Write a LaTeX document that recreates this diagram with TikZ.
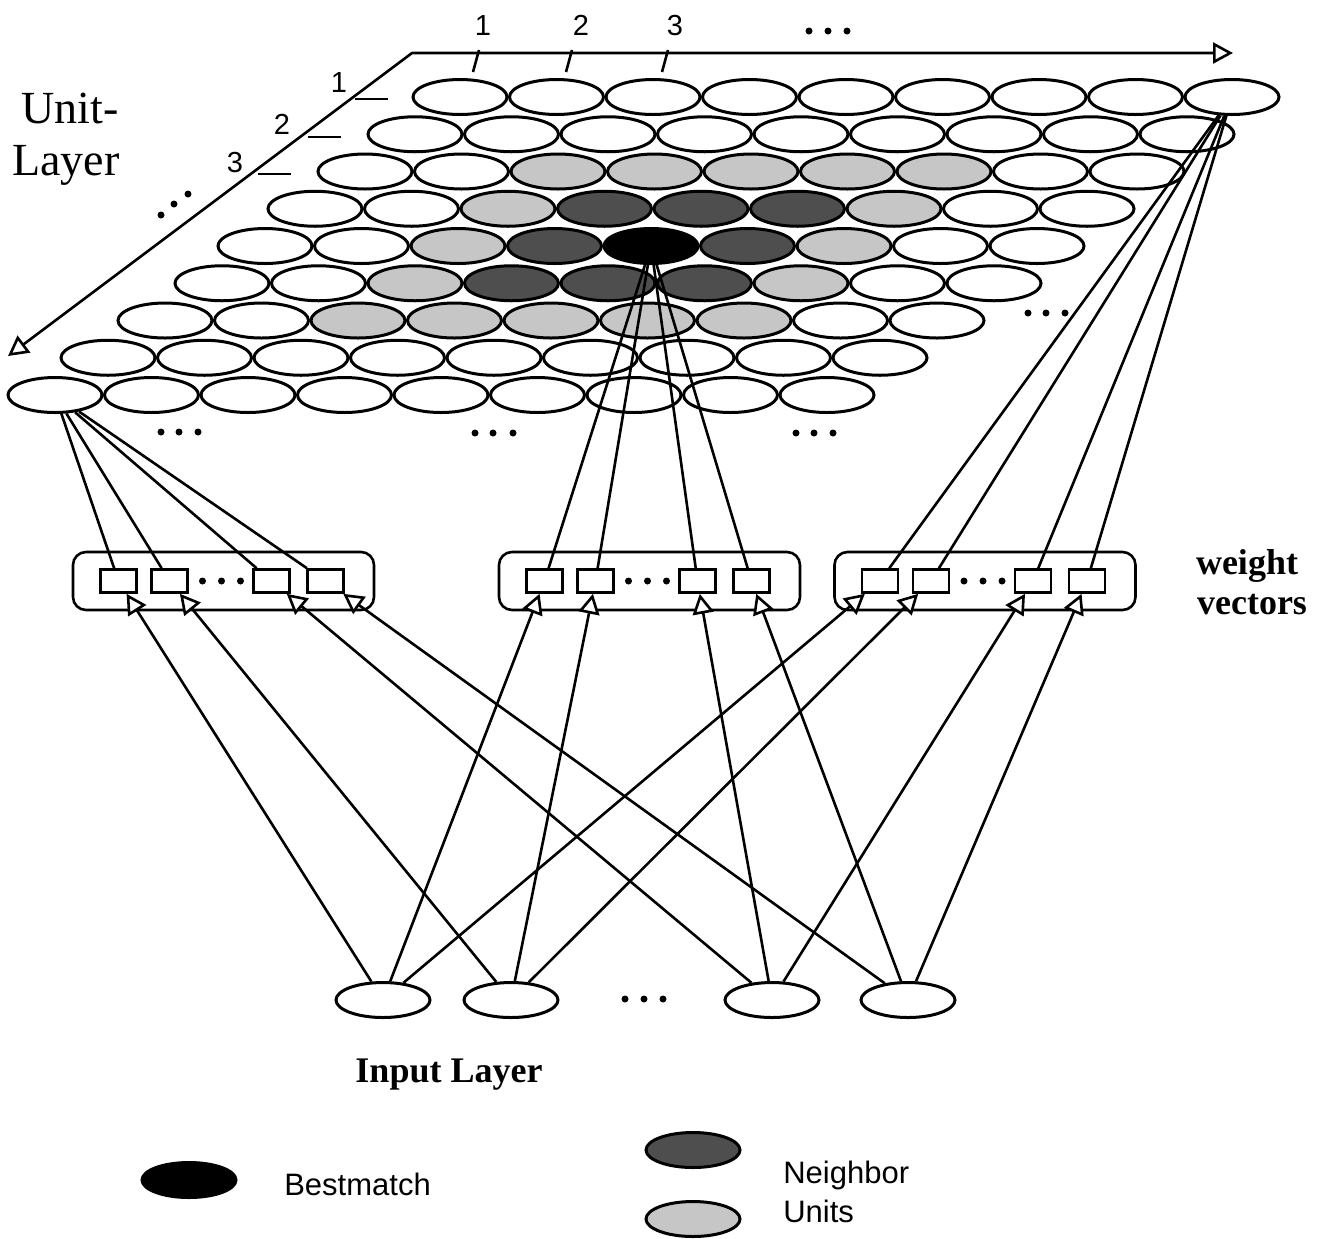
\documentclass[tikz,border=0pt]{standalone}
\usepackage{fontspec}
\setmainfont{Liberation Serif}
\setsansfont{Liberation Sans}
\usetikzlibrary{arrows.meta,shapes.geometric}

\definecolor{lightunit}{RGB}{198,198,198}
\definecolor{darkunit}{RGB}{78,78,78}

\tikzset{
  unitcell/.style={draw,ellipse,inner sep=0pt,minimum width=47pt,minimum height=17.5pt,line width=1.5pt},
  wsquare/.style={draw,fill=white,inner sep=0pt,minimum width=18pt,minimum height=11.5pt},
  wbox/.style={draw,rounded corners=6.5pt,inner sep=0pt,minimum width=150.5pt,minimum height=29pt},
  num/.style={font=\sffamily\fontsize{14.5}{17}\selectfont,inner sep=0pt,anchor=base},
  sanslbl/.style={font=\sffamily\fontsize{15.5}{18}\selectfont,inner sep=0pt,anchor=base west},
  boldlbl/.style={font=\bfseries\fontsize{18}{22}\selectfont,inner sep=0pt,anchor=base},
  biglbl/.style={font=\fontsize{23}{26}\selectfont,inner sep=0pt,anchor=base}
}

\begin{document}
\begin{tikzpicture}[x=0.5pt,y=-0.5pt,line width=1.3pt,>={Triangle[fill=white,length=10pt,width=10.5pt]}]
		\newcommand{\unitStep}{96.5}	% distance of two units in a row
		\newcommand{\rowStep}{37.25}	% distance of two rows
		\useasboundingbox (0,0) rectangle (1322,1238);
		
		% axes of the unit layer
		\coordinate (origin) at (412,53);
		\coordinate (colEnd) at (1233,53);
		\coordinate (rowEnd) at (8,356);
		\draw[<->,line join=round] (rowEnd) -- (origin) -- (colEnd);
		\foreach \x/\lx/\n in {476/483/1,569/581/2,665/675/3}{
			\draw (\x+3,50) -- (\x-3,72);	% column ticks
			\node[num] (col\n) at (\lx,35) {\n};
		}
		\foreach \x/\y/\lx/\ly/\n in {355/99/339/92/1,308/137/282/134/2,258/174/235/172/3}{
			\draw (\x,\y) -- (\x+33,\y);	% row ticks
			\node[num] (row\n) at (\lx,\ly) {\n};
		}
		\node[biglbl] (unitLbl) at (70,123) {Unit-};
		\node[biglbl] (layerLbl) at (66,175) {Layer};
		
		% units
		\foreach \rw/\rx in {1/460,2/415,3/365,4/315,5/265,6/222,7/165,8/108,9/55}
			\foreach \cl in {1,...,9}{
				\def\unitFill{white}
				\ifnum\rw>2 \ifnum\rw<8 \ifnum\cl>2 \ifnum\cl<8 \def\unitFill{lightunit}\fi\fi\fi\fi
				\ifnum\rw>3 \ifnum\rw<7 \ifnum\cl>3 \ifnum\cl<7 \def\unitFill{darkunit}\fi\fi\fi\fi
				\ifnum\rw=5 \ifnum\cl=5 \def\unitFill{black}\fi\fi
				\node[unitcell,fill=\unitFill] (u\rw\cl) at ({\rx+\unitStep*(\cl-1)},{97+\rowStep*(\rw-1)}) {};
			}
		
		% weight vectors
		\foreach \bx/\x in {1/223.5,2/649.5,3/985}{
			\node[wbox] (box\bx) at (\x,581) {};
			\foreach \s/\dx in {1/-105,2/-54,3/48,4/102}
				\node[wsquare] (w\bx\s) at (\x+\dx,581) {};
			\foreach \dx in {-21,-2,17}
				\fill (\x+\dx,581) circle (1.75pt);
		}
		\node[boldlbl] (weightLbl) at (1247,574) {weight};
		\node[boldlbl] (vectorsLbl) at (1252,614) {vectors};
		
		% units to weights
		\foreach \s in {1,...,4}{
			\draw (u91) -- (w1\s);
			\draw (u55) -- (w2\s);
			\draw (u19) -- (w3\s);
		}
		
		% input layer
		\foreach \n/\x in {1/383,2/511,3/772,4/908}
			\node[unitcell] (in\n) at (\x,1000) {};
		\foreach \n in {1,...,4}
			\foreach \bx in {1,2,3}
				\draw[->] (in\n) -- (w\bx\n);
		\node[boldlbl] (inputLbl) at (449,1082) {Input Layer};
		
		% dots
		\foreach \x/\y in {809/31,828/31,847/31,1028/313,1046/313,1065/313,161/432,179/432,198/432,475/433,493/433,513/433,796/433,814/433,833/433,161/215,174/204,188/194,625/999,644/999,663/999}
			\fill (\x,\y) circle (1.75pt);
		
		% legend
		\node[unitcell,fill=black] (legBest) at (189,1180) {};
		\node[sanslbl] (bestLbl) at (283,1195) {Bestmatch};
		\node[unitcell,fill=darkunit] (legDark) at (693,1150) {};
		\node[unitcell,fill=lightunit] (legLight) at (693,1219) {};
		\node[sanslbl] (neighborLbl) at (782,1183) {Neighbor};
		\node[sanslbl] (unitsLbl) at (782,1222) {Units};
\end{tikzpicture}
\end{document}
